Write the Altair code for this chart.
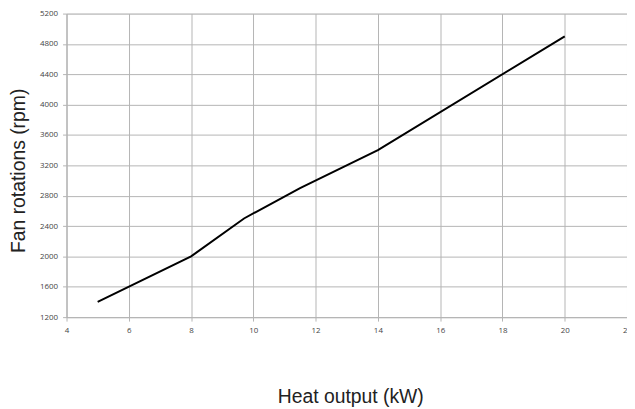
import altair as alt
import pandas as pd

heat_kw = [5, 8, 9.7, 11.5, 14, 20]
fan_rpm = [1400, 2000, 2500, 2900, 3400, 4900]

x_ticks = [4, 6, 8, 10, 12, 14, 16, 18, 20, 22]
y_ticks = [1200, 1600, 2000, 2400, 2800, 3200, 3600, 4000, 4400, 4800, 5200]

df = pd.DataFrame({"heat": heat_kw, "rpm": fan_rpm})

grid = "#b4b4b4"

chart = alt.Chart(df).mark_line(color="black", strokeWidth=2, clip=False).encode(
    x=alt.X("heat:Q",
            scale=alt.Scale(domain=[4, 22], nice=False, zero=False),
            axis=alt.Axis(values=x_ticks, title="Heat output (kW)", grid=True,
                          format="d", labelFlush=False,
                          gridColor=grid, domainColor=grid, tickColor=grid,
                          tickSize=4, labelFont="Open Sans", labelFontSize=8,
                          labelColor="#444444", labelPadding=5,
                          titleFont="Liberation Sans", titleFontSize=19.5,
                          titleFontWeight="normal", titleColor="#222222",
                          titleX=286, titleY=80, titleAlign="center",
                          titleBaseline="middle")),
    y=alt.Y("rpm:Q",
            scale=alt.Scale(domain=[1200, 5200], nice=False, zero=False),
            axis=alt.Axis(values=y_ticks, title="Fan rotations (rpm)", grid=True,
                          format="d",
                          gridColor=grid, domainColor=grid, tickColor=grid,
                          tickSize=4, labelFont="Open Sans", labelFontSize=8,
                          labelColor="#444444", labelPadding=5,
                          titleFont="Liberation Sans", titleFontSize=19.5,
                          titleFontWeight="normal", titleColor="#222222",
                          titleX=-48, titleY=158, titleAngle=-90,
                          titleAlign="center", titleBaseline="middle")),
).properties(
    width=565, height=306,
    autosize=alt.AutoSizeParams(type="none"),
    padding={"left": 59, "top": 4, "right": 0, "bottom": 95},
).configure_view(stroke=None).configure(background="white")

chart.save("out.html", embed_options={"renderer": "svg", "actions": False})
